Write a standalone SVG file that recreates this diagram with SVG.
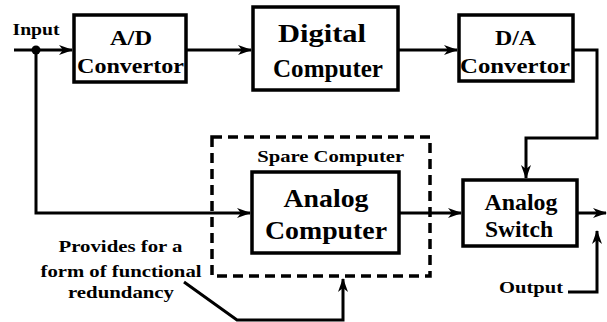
<svg xmlns="http://www.w3.org/2000/svg" width="607" height="322" viewBox="0 0 607 322">
<defs>
<marker id="ah" markerWidth="14" markerHeight="10" refX="13" refY="5" orient="auto" markerUnits="userSpaceOnUse">
<path d="M0,0 L14,5 L0,10 L4,5 z" fill="#000"/>
</marker>
<style>
.box{fill:#fff;stroke:#000;stroke-width:3.5}
.ln{fill:none;stroke:#000;stroke-width:3}
</style>
</defs>
<rect width="607" height="322" fill="#fff"/>
<g id="connectors">
<path class="ln" d="M14,50 H72" marker-end="url(#ah)"/>
<circle cx="36" cy="50" r="4.5" fill="#000"/>
<path class="ln" d="M36,50 V213 H250" marker-end="url(#ah)"/>
<path class="ln" d="M186,50 H251" marker-end="url(#ah)"/>
<path class="ln" d="M398,50 H457" marker-end="url(#ah)"/>
<path class="ln" d="M573,50 H597 V138 H526 V178" marker-end="url(#ah)"/>
<path class="ln" d="M399,213 H461" marker-end="url(#ah)"/>
<path class="ln" d="M577,213 H606" marker-end="url(#ah)"/>
<path class="ln" d="M568,292 H597 V231" marker-end="url(#ah)"/>
<path class="ln" d="M184,282 L237,320 H343 V279" marker-end="url(#ah)"/>
</g>
<g font-family="'Liberation Serif', 'Times New Roman', Times, 'DejaVu Serif', serif" font-weight="bold" text-anchor="middle" fill="#000" lengthAdjust="spacingAndGlyphs">
<g id="input-label"><text x="36" y="35" font-size="16" textLength="47" lengthAdjust="spacingAndGlyphs">Input</text></g>
<g id="ad">
<rect class="box" x="74" y="15" width="112" height="67"/>
<text x="131" y="45" font-size="20" textLength="42" lengthAdjust="spacingAndGlyphs">A/D</text>
<text x="130.5" y="73" font-size="20" textLength="107" lengthAdjust="spacingAndGlyphs">Convertor</text>
</g>
<g id="digital">
<rect class="box" x="253" y="7" width="145" height="83"/>
<text x="322" y="42" font-size="25" textLength="88" lengthAdjust="spacingAndGlyphs">Digital</text>
<text x="328" y="77" font-size="25" textLength="110" lengthAdjust="spacingAndGlyphs">Computer</text>
</g>
<g id="da">
<rect class="box" x="459" y="15" width="114" height="66"/>
<text x="515.5" y="45" font-size="20" textLength="41" lengthAdjust="spacingAndGlyphs">D/A</text>
<text x="515" y="73" font-size="20" textLength="110" lengthAdjust="spacingAndGlyphs">Convertor</text>
</g>
<g id="spare">
<rect x="212" y="137" width="218" height="139" fill="none" stroke="#000" stroke-width="3.5" stroke-dasharray="10,6"/>
<text x="330.7" y="162" font-size="16" textLength="147" lengthAdjust="spacingAndGlyphs">Spare Computer</text>
</g>
<g id="analog-computer">
<rect class="box" x="252" y="172" width="147" height="81"/>
<text x="326" y="207" font-size="25" textLength="85" lengthAdjust="spacingAndGlyphs">Analog</text>
<text x="326" y="239" font-size="25" textLength="122" lengthAdjust="spacingAndGlyphs">Computer</text>
</g>
<g id="analog-switch">
<rect class="box" x="463" y="180" width="114" height="66"/>
<text x="521" y="210" font-size="23" textLength="73" lengthAdjust="spacingAndGlyphs">Analog</text>
<text x="519" y="237" font-size="23" textLength="68" lengthAdjust="spacingAndGlyphs">Switch</text>
</g>
<g id="output-label"><text x="531" y="293" font-size="16" textLength="64" lengthAdjust="spacingAndGlyphs">Output</text></g>
<g id="note">
<text x="120.5" y="252" font-size="17" textLength="124" lengthAdjust="spacingAndGlyphs">Provides for a</text>
<text x="121" y="276.5" font-size="17" textLength="161" lengthAdjust="spacingAndGlyphs">form of functional</text>
<text x="121" y="298" font-size="17" textLength="106" lengthAdjust="spacingAndGlyphs">redundancy</text>
</g>
</g>
</svg>
